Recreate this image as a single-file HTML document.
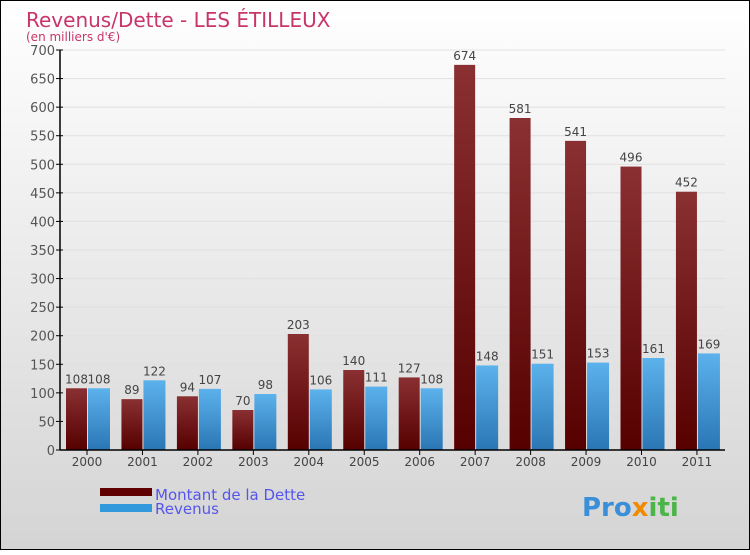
<!DOCTYPE html>
<html><head><meta charset="utf-8"><style>
body{margin:0}
svg text{font-family:"DejaVu Sans","Liberation Sans",sans-serif}
</style></head><body>
<svg width="750" height="550" viewBox="0 0 750 550" xmlns="http://www.w3.org/2000/svg">
<defs>
<linearGradient id="bg" x1="0" y1="0" x2="0" y2="1"><stop offset="0" stop-color="#ffffff"/><stop offset="1" stop-color="#d4d4d4"/></linearGradient>
<linearGradient id="gd" x1="0" y1="0" x2="0" y2="1"><stop offset="0" stop-color="#8a3032"/><stop offset="1" stop-color="#560000"/></linearGradient>
<linearGradient id="gr" x1="0" y1="0" x2="0" y2="1"><stop offset="0" stop-color="#5cb2ec"/><stop offset="1" stop-color="#2a76b4"/></linearGradient>
</defs>
<rect x="0.5" y="0.5" width="749" height="549" fill="url(#bg)" stroke="#000"/>
<text x="26" y="27" font-size="20" fill="#c8356a">Revenus/Dette - LES ÉTILLEUX</text>
<text x="26" y="41" font-size="12" fill="#c8356a">(en milliers d'€)</text>
<g id="grid"></g><g id="bars"></g><g id="axes"></g>
<rect x="100" y="488" width="52" height="8" fill="#600000"/>
<text x="155" y="500" font-size="15" fill="#5555ee">Montant de la Dette</text>
<rect x="100" y="504" width="52" height="8" fill="#3399dd"/>
<text x="155" y="514" font-size="15" fill="#5555ee">Revenus</text>
<text x="582" y="516" font-size="26" font-weight="bold"><tspan fill="#3a8fd8">Pro</tspan><tspan fill="#f08a00">x</tspan><tspan fill="#4bb548">iti</tspan></text>
</svg>
<script>
const years=["2000","2001","2002","2003","2004","2005","2006","2007","2008","2009","2010","2011"];
const dette=[108,89,94,70,203,140,127,674,581,541,496,452];
const revenus=[108,122,107,98,106,111,108,148,151,153,161,169];
const yTicks=[0,50,100,150,200,250,300,350,400,450,500,550,600,650,700];
const NS="http://www.w3.org/2000/svg";
const y=v=>450-v*400/700;
const cx=i=>87+i*55.45;
function mk(t,a,p){const e=document.createElementNS(NS,t);for(const k in a)e.setAttribute(k,a[k]);p.appendChild(e);return e;}
const g=document.getElementById('grid'),b=document.getElementById('bars'),ax=document.getElementById('axes');
yTicks.forEach(v=>{
 const l=mk('line',{x1:60,x2:725,y1:y(v),y2:y(v),stroke:'#e0e0e0','stroke-width':1},g);
 
 
 const t=mk('line',{x1:56,x2:63,y1:y(v),y2:y(v),stroke:'#000'},ax);
 
 
 const tx=mk('text',{x:55,y:y(v)+5,'font-size':13,fill:'#555','text-anchor':'end'},ax);tx.textContent=v;
 
 
});
years.forEach((yr,i)=>{
 const c=cx(i);
 const r1=mk('rect',{x:c-21,y:y(dette[i]),width:21,height:450-y(dette[i]),fill:'url(#gd)'},b);
 
 
 const r2=mk('rect',{x:c+1,y:y(revenus[i]),width:22,height:450-y(revenus[i]),fill:'url(#gr)'},b);
 
 
 const t1=mk('text',{x:c-10.5,y:y(dette[i])-5,'font-size':12,fill:'#444','text-anchor':'middle'},b);t1.textContent=dette[i];
 
 
 const t2=mk('text',{x:c+12,y:y(revenus[i])-5,'font-size':12,fill:'#444','text-anchor':'middle'},b);t2.textContent=revenus[i];
 
 
 const tk=mk('line',{x1:c,x2:c,y1:450,y2:455,stroke:'#000'},ax);
 
 
 const xl=mk('text',{x:c,y:466,'font-size':12,fill:'#444','text-anchor':'middle'},ax);xl.textContent=yr;
 
 
});
const va=mk('line',{x1:60,x2:60,y1:50,y2:450,stroke:'#000','stroke-width':1.5},ax);


const ha=mk('line',{x1:60,x2:725,y1:450,y2:450,stroke:'#000','stroke-width':1.5},ax);


</script>
</body></html>
